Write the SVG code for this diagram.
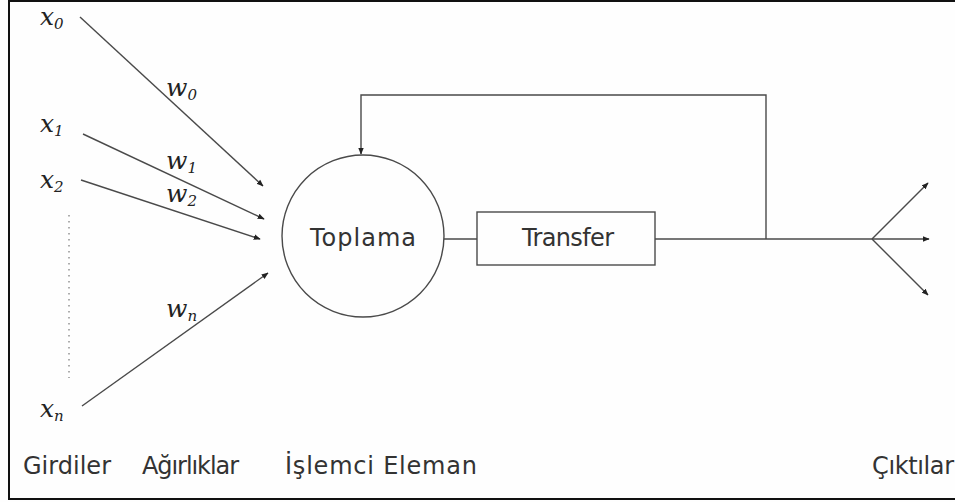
<svg xmlns="http://www.w3.org/2000/svg" width="955" height="502" viewBox="0 0 955 502">
  <defs>
    <marker id="arr" viewBox="0 0 10 10" refX="9" refY="5" markerWidth="7" markerHeight="7" markerUnits="userSpaceOnUse" orient="auto">
      <path d="M0,1 L10,5 L0,9 Z" fill="#222"/>
    </marker>
    <style>
      .ln { stroke: #4a4a4a; stroke-width: 1.4; fill: none; }
      .ar { marker-end: url(#arr); }
      .math { font-family: "DejaVu Serif", "Liberation Serif", serif; font-style: italic; fill: #222; }
      .mx { font-size: 25px; }
      .sub { font-size: 15px; }
      .lbl { font-family: "DejaVu Sans", "Liberation Sans", sans-serif; font-size: 24px; fill: #333; }
    </style>
  </defs>
  <rect width="955" height="502" fill="#fefefe"/>
  <!-- frame -->
  <rect x="9" y="1" width="960" height="498" fill="none" stroke="#111" stroke-width="2"/>

  <!-- connectors -->
  <g id="connectors">
    <line class="ln ar" x1="80" y1="17" x2="263" y2="186"/>
    <line class="ln ar" x1="83" y1="134" x2="264" y2="219"/>
    <line class="ln ar" x1="81" y1="180" x2="260" y2="239"/>
    <line class="ln ar" x1="82" y1="406" x2="268" y2="273"/>
    <line x1="69" y1="215" x2="69" y2="378" stroke="#777" stroke-width="1.2" stroke-dasharray="1.5 4.5"/>
    <line class="ln" x1="444" y1="239" x2="477" y2="239"/>
    <polyline class="ln" points="655,239 872,239"/>
    <polyline class="ln ar" points="766,239 766,95 361,95 361,154"/>
    <line class="ln ar" x1="872" y1="239" x2="928" y2="183"/>
    <line class="ln ar" x1="872" y1="239" x2="929" y2="239"/>
    <line class="ln ar" x1="872" y1="239" x2="928" y2="295"/>
  </g>

  <!-- summation node -->
  <g id="toplama">
    <circle class="ln" cx="363" cy="236" r="81"/>
    <text class="lbl" x="310" y="246" textLength="106">Toplama</text>
  </g>

  <!-- transfer node -->
  <g id="transfer">
    <rect class="ln" x="477" y="212" width="178" height="53"/>
    <text class="lbl" x="522" y="246" textLength="92">Transfer</text>
  </g>

  <!-- inputs -->
  <g id="inputs">
    <text class="math" x="40" y="25"><tspan class="mx">x</tspan><tspan class="sub" dy="4">0</tspan></text>
    <text class="math" x="40" y="132"><tspan class="mx">x</tspan><tspan class="sub" dy="4">1</tspan></text>
    <text class="math" x="40" y="188"><tspan class="mx">x</tspan><tspan class="sub" dy="4">2</tspan></text>
    <text class="math" x="40" y="417"><tspan class="mx">x</tspan><tspan class="sub" dy="4">n</tspan></text>
  </g>

  <!-- weights -->
  <g id="weights">
    <text class="math" x="166" y="96"><tspan class="mx">w</tspan><tspan class="sub" dy="4">0</tspan></text>
    <text class="math" x="166" y="169"><tspan class="mx">w</tspan><tspan class="sub" dy="4">1</tspan></text>
    <text class="math" x="166" y="202"><tspan class="mx">w</tspan><tspan class="sub" dy="4">2</tspan></text>
    <text class="math" x="166" y="317"><tspan class="mx">w</tspan><tspan class="sub" dy="4">n</tspan></text>
  </g>

  <!-- column captions -->
  <g id="captions">
    <text class="lbl" x="23" y="474" textLength="88">Girdiler</text>
    <text class="lbl" x="142" y="474" textLength="97">Ağırlıklar</text>
    <text class="lbl" x="285" y="474" textLength="192">İşlemci Eleman</text>
    <text class="lbl" x="872" y="474" textLength="82">Çıktılar</text>
  </g>
</svg>
